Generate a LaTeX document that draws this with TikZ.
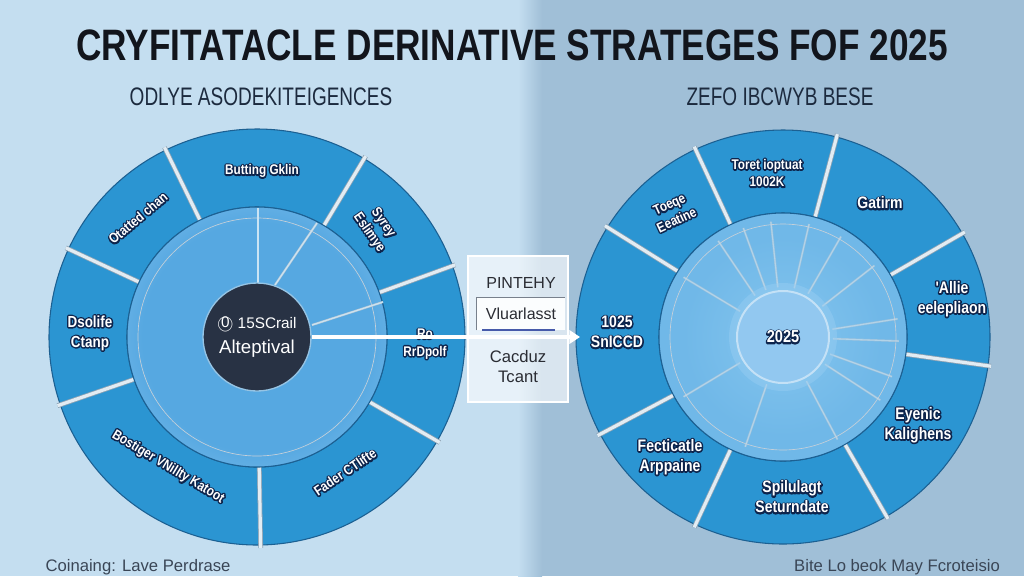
\documentclass[tikz,border=0pt]{standalone}
\usepackage{fontspec}
\usetikzlibrary{arrows.meta}
\setmainfont{Liberation Sans}
\newfontfamily\ttlfont[FakeStretch=0.8]{Liberation Sans}
\newfontfamily\subfont[FakeStretch=0.75]{Liberation Sans}
\newfontfamily\segfont[FakeStretch=0.84]{Liberation Sans}
\definecolor{bgleft}{RGB}{196,222,240}
\definecolor{bgright}{RGB}{160,191,215}
\definecolor{segblue}{RGB}{43,149,210}
\definecolor{segedge}{RGB}{28,96,146}
\definecolor{gapgrey}{RGB}{140,162,180}
\definecolor{gaplight}{RGB}{226,236,243}
\definecolor{hubdark}{RGB}{40,50,68}
\definecolor{ttlink}{RGB}{18,21,28}
\definecolor{subink}{RGB}{28,42,62}
\definecolor{footink}{RGB}{58,70,86}
% disk tones
\definecolor{ldA}{RGB}{86,168,225}
\definecolor{ldB}{RGB}{108,180,231}
\definecolor{ldC}{RGB}{128,193,236}
\definecolor{ldD}{RGB}{112,183,232}
\definecolor{ldE}{RGB}{80,163,221}
\definecolor{ldF}{RGB}{62,152,212}
\definecolor{rdA}{RGB}{132,197,238}
\definecolor{rdB}{RGB}{112,184,232}
\definecolor{rdC}{RGB}{100,176,228}
\definecolor{rdD}{RGB}{82,165,221}
\definecolor{rdE}{RGB}{68,156,215}
% white letters with a navy rim
\newcommand{\olt}[1]{{\special{pdf:literal direct 0.05 0.14 0.30 RG 2.2 w 1 j 1 Tr}\rlap{#1}\special{pdf:literal direct 0 Tr}}#1}
\pgfdeclareradialshading{leftdisk}{\pgfpoint{0bp}{0bp}}{color(0bp)=(ldA); color(22bp)=(ldA); color(28bp)=(ldB); color(36bp)=(ldC); color(43bp)=(ldD); color(47bp)=(ldE); color(50bp)=(ldF)}
\pgfdeclareradialshading{rightdisk}{\pgfpoint{0bp}{0bp}}{color(0bp)=(rdA); color(20bp)=(rdB); color(32bp)=(rdB); color(44bp)=(rdC); color(47bp)=(rdD); color(50bp)=(rdE)}
\tikzset{
  seg/.style={fill=segblue, draw=segedge, line width=0.8pt},
  gap/.style={draw=gapgrey, double=gaplight, double distance=2.4pt, line width=0.6pt},
  spoke/.style={draw=gapgrey!60!white, double=white!75!segblue, double distance=0.8pt, line width=0.4pt},
  fspoke/.style={spoke, opacity=0.55},
  lbl/.style={text=white, font=\segfont\bfseries\fontsize{10.5}{13}\selectfont, align=center, inner sep=0.75pt},
  rlbl/.style={lbl, font=\segfont\bfseries\fontsize{12.5}{15}\selectfont},
  ttl/.style={text=ttlink, font=\ttlfont\bfseries\fontsize{33}{35}\selectfont, inner sep=0.75pt},
  subttl/.style={text=subink, font=\subfont\fontsize{19}{21}\selectfont, inner sep=0.75pt},
  foot/.style={text=footink, font=\fontsize{12.5}{14}\selectfont, inner sep=0.75pt},
  paneltxt/.style={text=ttlink!90!white, font=\fontsize{12}{14}\selectfont, inner sep=0.75pt},
  arrowline/.style={draw=white, line width=2.6pt, -{Triangle[length=8pt,width=10pt]}},
}
\begin{document}
\begin{tikzpicture}[x=0.75pt,y=0.75pt,yscale=-1,xscale=1]
\useasboundingbox (0,0) rectangle (1024,576);
%Shape: Rectangle
\fill [bgleft] (0,0) rectangle (530,576);
\fill [bgright] (530,0) rectangle (1024,576);
\shade [left color=bgleft, right color=bgright] (518,0) rectangle (542,576);

% Text Node
\draw (512,45) node (ttl) [ttl] {CRYFITATACLE DERINATIVE STRATEGES FOF 2025};
% Text Node
\draw (261,97) node (subl) [subttl] {ODLYE ASODEKITEIGENCES};
% Text Node
\draw (780,97) node (subr) [subttl] {ZEFO IBCWYB BESE};

% left wheel
\coordinate (lc) at (257,337);
%Shape: Segment
\draw [seg] ([shift={(-20:208)}]lc) arc (-20:-59:208) -- ([shift={(-59:130)}]lc) arc (-59:-20:130) -- cycle;
%Shape: Segment
\draw [seg] ([shift={(-59:208)}]lc) arc (-59:-116:208) -- ([shift={(-116:130)}]lc) arc (-116:-59:130) -- cycle;
%Shape: Segment
\draw [seg] ([shift={(-116:208)}]lc) arc (-116:-155:208) -- ([shift={(-155:130)}]lc) arc (-155:-116:130) -- cycle;
%Shape: Segment
\draw [seg] ([shift={(-155:208)}]lc) arc (-155:-199:208) -- ([shift={(-199:130)}]lc) arc (-199:-155:130) -- cycle;
%Shape: Segment
\draw [seg] ([shift={(-199:208)}]lc) arc (-199:-271:208) -- ([shift={(-271:130)}]lc) arc (-271:-199:130) -- cycle;
%Shape: Segment
\draw [seg] ([shift={(-271:208)}]lc) arc (-271:-330:208) -- ([shift={(-330:130)}]lc) arc (-330:-271:130) -- cycle;
%Shape: Segment
\draw [seg] ([shift={(-330:208)}]lc) arc (-330:-380:208) -- ([shift={(-380:130)}]lc) arc (-380:-330:130) -- cycle;
%Straight Lines
\draw [gap] ([shift={(-20:126)}]lc) -- ([shift={(-20:211)}]lc);
\draw [gap] ([shift={(-59:126)}]lc) -- ([shift={(-59:211)}]lc);
\draw [gap] ([shift={(-116:126)}]lc) -- ([shift={(-116:211)}]lc);
\draw [gap] ([shift={(-155:126)}]lc) -- ([shift={(-155:211)}]lc);
\draw [gap] ([shift={(-199:126)}]lc) -- ([shift={(-199:211)}]lc);
\draw [gap] ([shift={(-271:126)}]lc) -- ([shift={(-271:211)}]lc);
\draw [gap] ([shift={(-330:126)}]lc) -- ([shift={(-330:211)}]lc);
%Shape: Circle
\shade [shading=leftdisk] (lc) circle (130);
\draw [draw=segedge, line width=0.8pt] (lc) circle (130);
\draw [draw=gapgrey!50!white, line width=0.5pt] (lc) circle (119);
%Straight Lines
\draw [spoke] (258,283) -- (258,208);
\draw [spoke] (275,285) -- (317,223);
\draw [spoke] (312,325) -- (383,302);
%Shape: Circle
\draw (lc) node (hubL) [circle, fill=hubdark, draw={rgb,255:red,150;green,196;blue,228}, line width=1pt, minimum size=81pt, inner sep=0pt, text=white, align=center, font=\fontsize{14}{19}\selectfont] {{\fontsize{11.5}{12}\selectfont\textcircled{0} 15SCrail}\\Alteptival};

% Text Node
\draw (262,171) node (lsegtop) [lbl] {\olt{Butting Gklin}};
% Text Node
\draw (138,218) node (lsegul) [lbl, rotate=40] {\olt{Otatted chan}};
% Text Node
\draw (376,228) node (lsegur) [lbl, rotate=-55] {\olt{Syrey}\\\olt{Eslimye}};
% Text Node
\draw (90,333) node (lsegl) [lbl, font=\segfont\bfseries\fontsize{12}{15}\selectfont] {\olt{Dsolife}\\\olt{Ctanp}};
% Text Node
\draw (425,344) node (lsegr) [lbl] {\olt{Ro}\\\olt{RrDpolf}};
% Text Node
\draw (168,467) node (lsegbl) [lbl, rotate=-31] {\olt{Bostiger VNillty Katoot}};
% Text Node
\draw (345,472) node (lsegbr) [lbl, rotate=34] {\olt{Fader CTlifte}};

% middle panel
%Shape: Rectangle
\draw [fill=white, fill opacity=0.6, draw=white, line width=0.8pt] (468,256) rectangle (568,402);
% Text Node
\draw (521,283) node (pnlhead) [paneltxt] {PINTEHY};
% Text Node
\draw (521,314) node (vlbox) [paneltxt, fill=white!94!bgleft, minimum width=66pt, minimum height=24pt] {Vluarlasst};
\draw [draw={rgb,255:red,120;green,128;blue,140}, line width=0.8pt] (vlbox.south west) |- (vlbox.north east);
\draw [draw={rgb,255:red,70;green,90;blue,170}, line width=1.2pt] ([xshift=4pt]vlbox.south west) -- ([xshift=-8pt]vlbox.south east);
% Text Node
\draw (518,357) node (pnlc) [paneltxt, font=\fontsize{12.5}{14}\selectfont] {Cacduz};
% Text Node
\draw (518,377) node (pnlt) [paneltxt, font=\fontsize{12.5}{14}\selectfont] {Tcant};

% right wheel
\coordinate (rc) at (783,337);
%Shape: Segment
\draw [seg] ([shift={(-30:207)}]rc) arc (-30:-75:207) -- ([shift={(-75:124)}]rc) arc (-75:-30:124) -- cycle;
%Shape: Segment
\draw [seg] ([shift={(-75:207)}]rc) arc (-75:-115:207) -- ([shift={(-115:124)}]rc) arc (-115:-75:124) -- cycle;
%Shape: Segment
\draw [seg] ([shift={(-115:207)}]rc) arc (-115:-148:207) -- ([shift={(-148:124)}]rc) arc (-148:-115:124) -- cycle;
%Shape: Segment
\draw [seg] ([shift={(-148:207)}]rc) arc (-148:-208:207) -- ([shift={(-208:124)}]rc) arc (-208:-148:124) -- cycle;
%Shape: Segment
\draw [seg] ([shift={(-208:207)}]rc) arc (-208:-245:207) -- ([shift={(-245:124)}]rc) arc (-245:-208:124) -- cycle;
%Shape: Segment
\draw [seg] ([shift={(-245:207)}]rc) arc (-245:-300:207) -- ([shift={(-300:124)}]rc) arc (-300:-245:124) -- cycle;
%Shape: Segment
\draw [seg] ([shift={(-300:207)}]rc) arc (-300:-352:207) -- ([shift={(-352:124)}]rc) arc (-352:-300:124) -- cycle;
%Shape: Segment
\draw [seg] ([shift={(-352:207)}]rc) arc (-352:-390:207) -- ([shift={(-390:124)}]rc) arc (-390:-352:124) -- cycle;
%Straight Lines
\draw [gap] ([shift={(-30:120)}]rc) -- ([shift={(-30:210)}]rc);
\draw [gap] ([shift={(-75:120)}]rc) -- ([shift={(-75:210)}]rc);
\draw [gap] ([shift={(-115:120)}]rc) -- ([shift={(-115:210)}]rc);
\draw [gap] ([shift={(-148:120)}]rc) -- ([shift={(-148:210)}]rc);
\draw [gap] ([shift={(-208:120)}]rc) -- ([shift={(-208:210)}]rc);
\draw [gap] ([shift={(-245:120)}]rc) -- ([shift={(-245:210)}]rc);
\draw [gap] ([shift={(-300:120)}]rc) -- ([shift={(-300:210)}]rc);
\draw [gap] ([shift={(-352:120)}]rc) -- ([shift={(-352:210)}]rc);
%Shape: Circle
\shade [shading=rightdisk] (rc) circle (124);
\draw [draw=segedge, line width=0.8pt] (rc) circle (124);
\draw [draw=gapgrey!50!white, line width=0.5pt] (rc) circle (113);
%Straight Lines
\draw [fspoke] ([shift={(-96:50)}]rc) -- ([shift={(-96:116)}]rc);
\draw [fspoke] ([shift={(-77:50)}]rc) -- ([shift={(-77:116)}]rc);
\draw [fspoke] ([shift={(-60:50)}]rc) -- ([shift={(-60:116)}]rc);
\draw [fspoke] ([shift={(-38:50)}]rc) -- ([shift={(-38:116)}]rc);
\draw [fspoke] ([shift={(-9:50)}]rc) -- ([shift={(-9:116)}]rc);
\draw [fspoke] ([shift={(2:50)}]rc) -- ([shift={(2:116)}]rc);
\draw [fspoke] ([shift={(20:50)}]rc) -- ([shift={(20:116)}]rc);
\draw [fspoke] ([shift={(33:50)}]rc) -- ([shift={(33:116)}]rc);
\draw [fspoke] ([shift={(62:50)}]rc) -- ([shift={(62:116)}]rc);
\draw [fspoke] ([shift={(109:50)}]rc) -- ([shift={(109:116)}]rc);
\draw [fspoke] ([shift={(149:50)}]rc) -- ([shift={(149:116)}]rc);
\draw [fspoke] ([shift={(-149:50)}]rc) -- ([shift={(-149:116)}]rc);
\draw [fspoke] ([shift={(-124:50)}]rc) -- ([shift={(-124:116)}]rc);
\draw [fspoke] ([shift={(-110:50)}]rc) -- ([shift={(-110:116)}]rc);
%Shape: Circle
\fill [fill={rgb,255:red,150;green,205;blue,242}, fill opacity=0.5] (rc) circle (54);
\draw (rc) node (hubR) [circle, fill={rgb,255:red,146;green,200;blue,240}, draw={rgb,255:red,196;green,225;blue,246}, line width=1.5pt, minimum size=69pt, inner sep=0pt, text=white, font=\segfont\bfseries\fontsize{13}{15}\selectfont] {\olt{2025}};

% Text Node
\draw (767,173) node (rsegtop) [lbl] {\olt{Toret ioptuat}\\\olt{1002K}};
% Text Node
\draw (673,212) node (rsegul) [lbl, rotate=25] {\olt{Toeqe}\\\olt{Eeatine}};
% Text Node
\draw (880,203) node (rsegur) [rlbl] {\olt{Gatirm}};
% Text Node
\draw (952,299) node (rsegr) [rlbl] {\olt{'Allie}\\\olt{eelepliaon}};
% Text Node
\draw (617,332) node (rsegl) [rlbl] {\olt{1025}\\\olt{SnICCD}};
% Text Node
\draw (670,457) node (rsegbl) [rlbl] {\olt{Fecticatle}\\\olt{Arppaine}};
% Text Node
\draw (792,497) node (rsegb) [rlbl] {\olt{Spilulagt}\\\olt{Seturndate}};
% Text Node
\draw (918,425) node (rsegbr) [rlbl] {\olt{Eyenic}\\\olt{Kalighens}};

% arrow
\coordinate (arrtip) at (580,337);
\draw [arrowline] (hubL.east) -- (arrtip);

% Text Node
\draw (138,567) node (footl) [foot] {Coinaing: Lave Perdrase};
% Text Node
\draw (897,567) node (footr) [foot] {Bite Lo beok May Fcroteisio};
\end{tikzpicture}
\end{document}
